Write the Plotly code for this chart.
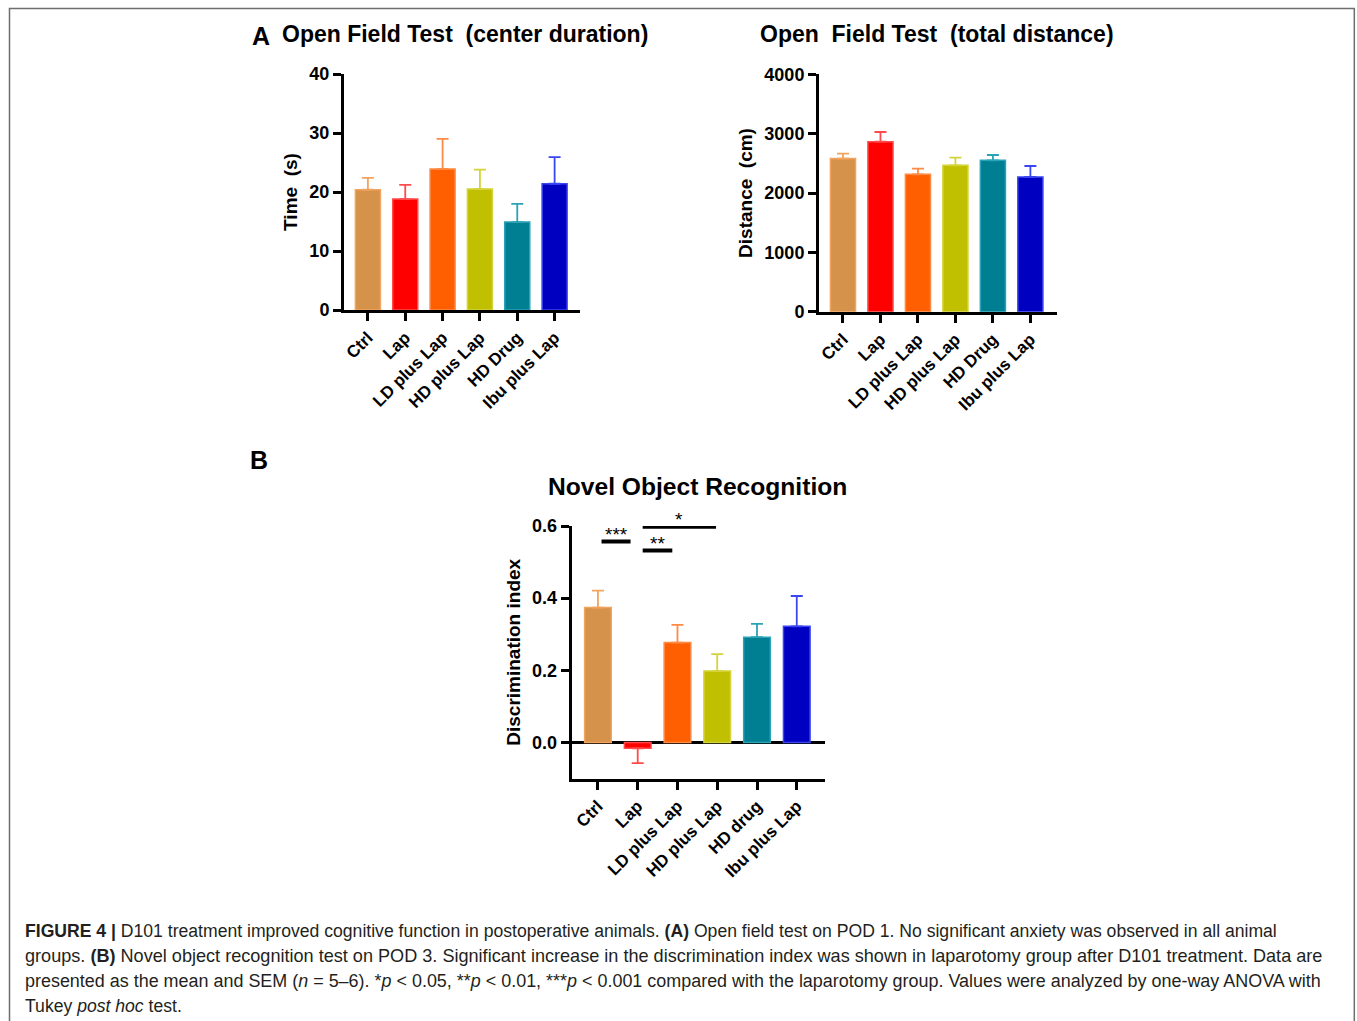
import plotly.graph_objects as go

# ---------------- data ----------------
cats_a = ["Ctrl", "Lap", "LD plus Lap", "HD plus Lap", "HD Drug", "Ibu plus Lap"]
cats_b = ["Ctrl", "Lap", "LD plus Lap", "HD plus Lap", "HD drug", "Ibu plus Lap"]

center_mean = [20.4, 18.8, 23.9, 20.5, 14.9, 21.4]
center_sem = [2.0, 2.4, 5.1, 3.3, 3.1, 4.5]

dist_mean = [2580, 2865, 2315, 2466, 2551, 2270]
dist_sem = [85, 163, 95, 130, 89, 185]

di_mean = [0.374, -0.016, 0.277, 0.198, 0.292, 0.322]
di_sem = [0.047, 0.041, 0.049, 0.047, 0.037, 0.084]

ticks_center = [0, 10, 20, 30, 40]
ticks_dist = [0, 1000, 2000, 3000, 4000]
ticks_di = [0.0, 0.2, 0.4, 0.6]

# significance comparisons (index a, index b, label, height)
comparisons = [(0, 1, "***", 0.557), (1, 2, "**", 0.532), (1, 3, "*", 0.598)]
comp_insets = [(0.09, 0.18), (0.125, 0.13), (0.125, 0.03)]

# ---------------- style ----------------
bar_colors = ["#D4924B", "#FF0000", "#FF5F00", "#C0C000", "#007F93", "#0000C0"]
err_colors = ["#F2A45E", "#FF4B4B", "#FF8A45", "#D4D43A", "#2AA3B6", "#3A46F0"]

W, H = 1357, 1021
FONT = "Liberation Sans, Arial, sans-serif"


def px(x):
    return x / W


def py(y):
    return 1 - y / H


fig = go.Figure()


def add_bars(cats, means, sems, xa, ya, width):
    for i, (c, m, s) in enumerate(zip(cats, means, sems)):
        up = s if m >= 0 else 0
        down = s if m < 0 else 0
        fig.add_trace(go.Bar(
            x=[c], y=[m], width=width,
            marker=dict(color=bar_colors[i], line=dict(color=err_colors[i], width=1.5)),
            error_y=dict(type="data", symmetric=False, array=[up], arrayminus=[down],
                         color=err_colors[i], thickness=1.8, width=6),
            xaxis=xa, yaxis=ya, showlegend=False, hoverinfo="x+y",
        ))


add_bars(cats_a, center_mean, center_sem, "x", "y", 0.67)
add_bars(cats_a, dist_mean, dist_sem, "x2", "y2", 0.67)
add_bars(cats_b, di_mean, di_sem, "x3", "y3", 0.67)

axis_common = dict(
    showline=True, linecolor="black", linewidth=3, ticks="outside", ticklen=8,
    tickwidth=3, tickcolor="black", showgrid=False, zeroline=False, automargin=False,
    tickfont=dict(family=FONT, size=18, color="black", weight="bold"),
)
xcommon = dict(axis_common, type="category", tickangle=-45,
               tickfont=dict(family=FONT, size=17, color="black", weight="bold"))
title_font = dict(family=FONT, size=19, color="black", weight="bold")

fig.update_layout(
    width=W, height=H, autosize=False,
    margin=dict(l=0, r=0, t=0, b=0, pad=0, autoexpand=False),
    paper_bgcolor="white", plot_bgcolor="white", barmode="overlay",
    font=dict(family=FONT, color="black"),
    xaxis=dict(xcommon, domain=[px(344), px(580)], range=[-0.64, 5.68], anchor="y"),
    yaxis=dict(axis_common, domain=[py(310), py(74)], range=[0, 40], tickvals=ticks_center,
               anchor="x", title=dict(text="Time  (s)", font=title_font, standoff=7)),
    xaxis2=dict(xcommon, domain=[px(819), px(1057)], range=[-0.64, 5.71], anchor="y2"),
    yaxis2=dict(axis_common, domain=[py(311.7), py(74.3)], range=[0, 4000], tickvals=ticks_dist,
                anchor="x2", title=dict(text="Distance  (cm)", font=title_font, standoff=7)),
    xaxis3=dict(xcommon, domain=[px(571.7), px(825)], range=[-0.66, 5.71], anchor="y3"),
    yaxis3=dict(axis_common, domain=[py(778.6), py(526)], range=[-0.1, 0.6], tickvals=ticks_di,
                tickformat=".1f", zeroline=True, zerolinecolor="black", zerolinewidth=3,
                anchor="x3", title=dict(text="Discrimination index", font=title_font, standoff=7)),
)

# significance lines
for (a, b, lab, h), (li, ri) in zip(comparisons, comp_insets):
    x0, x1 = a + li, b - ri
    fig.add_shape(type="line", xref="x3", yref="y3", x0=x0, x1=x1, y0=h, y1=h,
                  line=dict(color="black", width=4))
    fig.add_annotation(xref="x3", yref="y3", x=(x0 + x1) / 2, y=h, text=lab, showarrow=False,
                       yanchor="bottom", yshift=-5, font=dict(family=FONT, size=19, color="black"))

# titles
titles = [
    (261, 36, "A", 25),
    (465, 34, "Open Field Test  (center duration)", 23),
    (937, 34, "Open  Field Test  (total distance)", 23),
    (259, 460, "B", 25),
    (697, 486, "Novel Object Recognition", 24.6),
]
for x, y, t, s in titles:
    fig.add_annotation(xref="paper", yref="paper", x=px(x), y=py(y), text=t, showarrow=False,
                       xanchor="center", yanchor="middle",
                       font=dict(family=FONT, size=s, color="black", weight="bold"))

# caption
caption_lines = [
    "<b>FIGURE 4 |</b> D101 treatment improved cognitive function in postoperative animals. <b>(A)</b> Open field test on POD 1. No significant anxiety was observed in all animal",
    "groups. <b>(B)</b> Novel object recognition test on POD 3. Significant increase in the discrimination index was shown in laparotomy group after D101 treatment. Data are",
    "presented as the mean and SEM (<i>n</i> = 5–6). *<i>p</i> &lt; 0.05, **<i>p</i> &lt; 0.01, ***<i>p</i> &lt; 0.001 compared with the laparotomy group. Values were analyzed by one-way ANOVA with",
    "Tukey <i>post hoc</i> test.",
]
caption_sizes = [17.6, 18.1, 17.95, 17.6]
for k, (line, fs) in enumerate(zip(caption_lines, caption_sizes)):
    fig.add_annotation(xref="paper", yref="paper", x=px(23), y=py(931 + 25 * k), text=line,
                       showarrow=False, xanchor="left", yanchor="middle", align="left",
                       font=dict(family=FONT, size=fs, color="#231F20"))

# frame
fig.add_shape(type="rect", xref="paper", yref="paper", x0=px(9.5), x1=px(1354.3), y0=-0.02, y1=py(8.5),
              line=dict(color="#6E6E6E", width=1.5), layer="above")

fig.write_html("out.html", config={"displayModeBar": False},
               post_script="document.body.style.margin='0';document.body.style.overflow='hidden';")
